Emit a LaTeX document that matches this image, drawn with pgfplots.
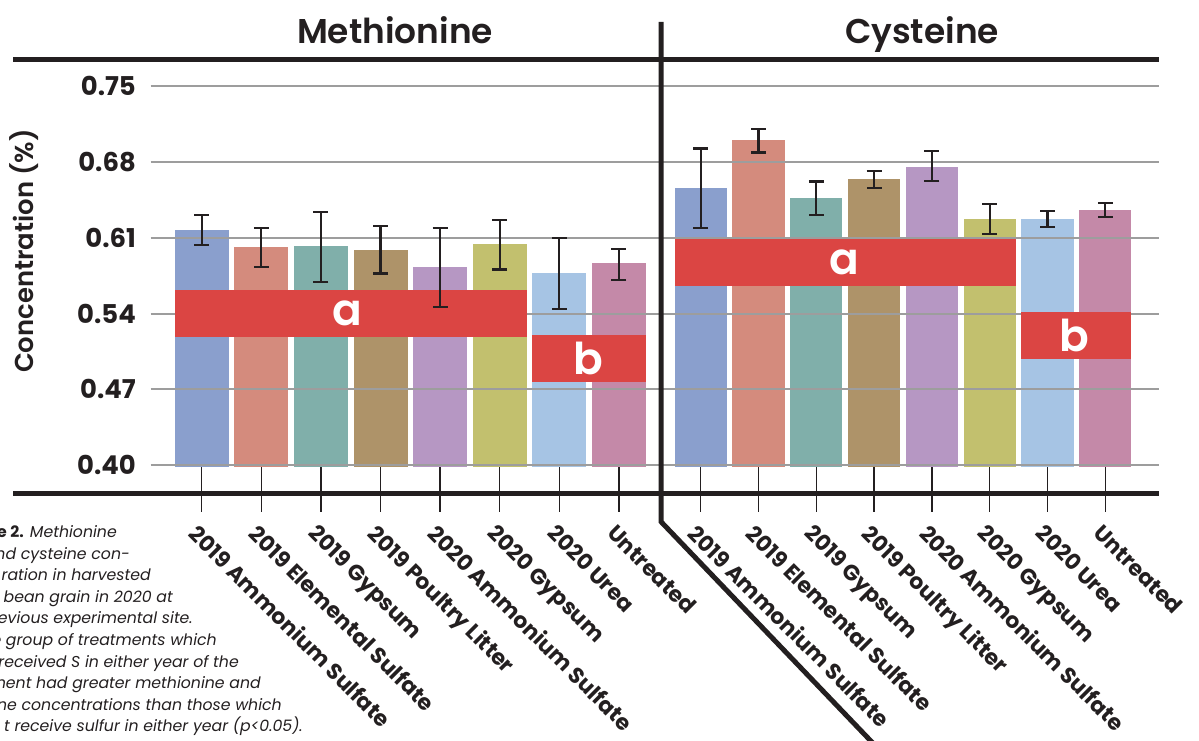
\documentclass[border=0pt]{standalone}
\usepackage{fontspec}
\setmainfont{Poppins}
\newfontfamily\psemi{Poppins SemiBold}
\usepackage{pgfplots}
\pgfplotsset{compat=1.18}
\definecolor{ink}{HTML}{231F20}
\definecolor{gridc}{HTML}{9D9D9D}
\definecolor{bandred}{HTML}{DB4543}
\definecolor{cA}{HTML}{8A9FCD}
\definecolor{cB}{HTML}{D48B7D}
\definecolor{cC}{HTML}{80AFAA}
\definecolor{cD}{HTML}{AE9369}
\definecolor{cE}{HTML}{B697C3}
\definecolor{cF}{HTML}{C2C06E}
\definecolor{cG}{HTML}{A6C4E4}
\definecolor{cH}{HTML}{C489A8}

\pgfplotstableread{
x y e
0 0.617 0.014
1 0.601 0.018
2 0.6015 0.032
3 0.599 0.022
4 0.5824 0.0365
5 0.6037 0.023
6 0.5771 0.033
7 0.5854 0.0143
}\meth
\pgfplotstableread{
x y e
0 0.6558 0.0365
1 0.6994 0.0108
2 0.6465 0.0154
3 0.6638 0.008
4 0.676 0.014
5 0.627 0.0137
6 0.627 0.0075
7 0.6355 0.0068
}\cyst

\newcommand\mybar[3]{\addplot[ybar, bar shift=0pt, fill=#1, draw=none, forget plot] coordinates {(#2,#3)};}
\newcommand\gridl[3]{\addplot[gridc, line width=2bp, forget plot] coordinates {(#1,#3) (#2,#3)};}

\pgfplotsset{
  panel/.style={
    scale only axis, anchor=south west,
    height=382.55bp,
    ymin=0.3988, ymax=0.7518,
    axis line style={draw=none},
    ytick={0.40,0.47,0.54,0.61,0.68,0.75},
    ytick style={draw=none},
    xtick={0,...,7},
    xticklabels={2019 Ammonium Sulfate,2019 Elemental Sulfate,2019 Gypsum,2019 Poultry Litter,2020 Ammonium Sulfate,2020 Gypsum,2020 Urea,Untreated},
    xtick pos=left,
    tick align=outside,
    major tick length=45.1bp,
    xtick style={draw=ink, line width=1.3bp},
    xticklabel style={rotate=-45, anchor=north west, inner sep=0pt, text=ink,
      font=\bfseries\fontsize{22}{22}\selectfont, xshift=7bp, yshift=-9bp},
    /pgf/number format/assume math mode=true,
    clip=true,
  },
  errs/.style={draw=none, mark=none, forget plot,
    error bars/.cd, y dir=both, y explicit,
    error bar style={draw=ink, line width=2.1bp},
    error mark options={rotate=90, draw=ink, mark size=7.5bp, line width=2.1bp}},
}

\begin{document}
\begin{tikzpicture}
\useasboundingbox (0bp,0bp) rectangle (1199bp,741bp);
\begin{scope}
\clip (0bp,0bp) rectangle (1199bp,741bp);

% ---------- Methionine ----------
\begin{axis}[panel,
  at={(150.7bp,274.4bp)}, width=509.3bp,
  xmin=-0.856, xmax=7.689,
  bar width=54bp,
  yticklabels={0.40,0.47,0.54,0.61,0.68,0.75},
  yticklabel style={anchor=east, inner sep=0pt, text=ink,
    font=\bfseries\fontsize{26}{26}\selectfont, xshift=30.4bp},
]
\mybar{cA}{0}{0.617}
\mybar{cB}{1}{0.601}
\mybar{cC}{2}{0.602}
\mybar{cD}{3}{0.5985}
\mybar{cE}{4}{0.583}
\mybar{cF}{5}{0.604}
\mybar{cG}{6}{0.577}
\mybar{cH}{7}{0.5865}
\pgfplotsinvokeforeach{0.40,0.47,0.54,0.61,0.68,0.75}{\gridl{-0.856}{7.689}{#1}}
\addplot[fill=bandred, draw=none, forget plot] coordinates {(-0.453,0.5185) (5.453,0.5185) (5.453,0.5616) (-0.453,0.5616)} -- cycle;
\addplot[fill=bandred, draw=none, forget plot] coordinates {(5.547,0.477) (7.453,0.477) (7.453,0.520) (5.547,0.520)} -- cycle;
\addplot[errs] table[x=x, y=y, y error=e] {\meth};
\node[text=white, font=\psemi\fontsize{44}{44}\selectfont, inner sep=0pt] at (axis cs:2.45,0.540) {a};
\node[text=white, font=\psemi\fontsize{44}{44}\selectfont, inner sep=0pt] at (axis cs:6.48,0.4985) {b};
\end{axis}

% ---------- Cysteine ----------
\begin{axis}[panel,
  at={(660bp,274.4bp)}, width=499.3bp,
  xmin=-0.704, xmax=7.934,
  bar width=52.3bp,
  yticklabels={},
]
\mybar{cA}{0}{0.6558}
\mybar{cB}{1}{0.700}
\mybar{cC}{2}{0.6465}
\mybar{cD}{3}{0.664}
\mybar{cE}{4}{0.675}
\mybar{cF}{5}{0.627}
\mybar{cG}{6}{0.627}
\mybar{cH}{7}{0.6355}
\pgfplotsinvokeforeach{0.40,0.47,0.54,0.61,0.68,0.75}{\gridl{-0.704}{7.934}{#1}}
\addplot[fill=bandred, draw=none, forget plot] coordinates {(-0.452,0.5656) (5.452,0.5656) (5.452,0.6087) (-0.452,0.6087)} -- cycle;
\addplot[fill=bandred, draw=none, forget plot] coordinates {(5.548,0.4981) (7.452,0.4981) (7.452,0.5413) (5.548,0.5413)} -- cycle;
\addplot[errs] table[x=x, y=y, y error=e] {\cyst};
\node[text=white, font=\psemi\fontsize{44}{44}\selectfont, inner sep=0pt] at (axis cs:2.48,0.587) {a};
\node[text=white, font=\psemi\fontsize{44}{44}\selectfont, inner sep=0pt] at (axis cs:6.47,0.5197) {b};
\end{axis}

% ---------- frame lines ----------
\draw[ink, line width=5bp] (13bp,681bp) -- (1159.3bp,681bp);
\draw[ink, line width=5bp] (13bp,247.7bp) -- (1159.3bp,247.7bp);
\draw[ink, line width=5bp, line join=miter] (661bp,719bp) -- (661bp,219.3bp) -- (880.4bp,-10bp);

% ---------- titles ----------
\node[anchor=base, inner sep=0pt, text=ink, font=\psemi\fontsize{34.5}{34.5}\selectfont] at (395bp,697.7bp) {Methionine};
\node[anchor=base, inner sep=0pt, text=ink, font=\psemi\fontsize{34.5}{34.5}\selectfont] at (922bp,697.7bp) {Cysteine};
\node[rotate=90, inner sep=0pt, text=ink, font=\psemi\fontsize{26}{26}\selectfont] at (24.5bp,490bp) {Concentration (\%)};

% ---------- caption ----------
\begin{scope}[every node/.style={anchor=base east, inner sep=0pt, text=ink, font=\itshape\fontsize{15.8}{15.8}\selectfont}]
\node at (117bp,203.3bp) {\textbf{\upshape e 2.} Methionine};
\node at (130bp,181.74bp) {nd cysteine con-};
\node at (151bp,160.18bp) {ration in harvested};
\node at (173bp,138.62bp) {bean grain in 2020 at};
\node at (193bp,117.06bp) {evious experimental site.};
\node at (217bp,95.5bp) {e group of treatments which};
\node at (239bp,73.94bp) {received S in either year of the};
\node at (261bp,52.38bp) {ment had greater methionine and};
\node at (282bp,30.82bp) {ne concentrations than those which};
\node at (303bp,9.26bp) {t receive sulfur in either year (p<0.05).};
\end{scope}
\end{scope}
\end{tikzpicture}
\end{document}
